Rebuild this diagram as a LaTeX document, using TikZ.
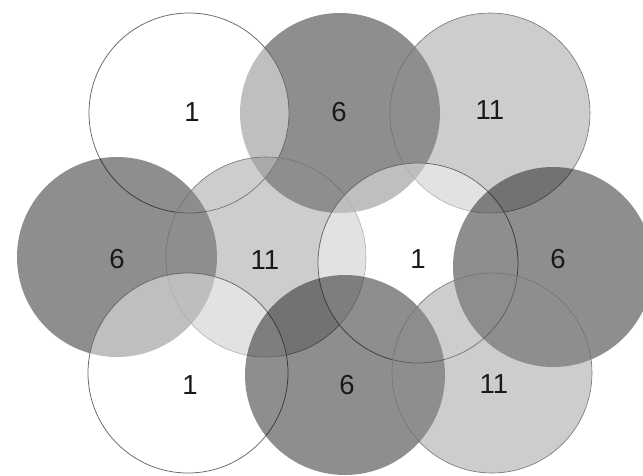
\documentclass[tikz,border=0pt]{standalone}
\usepackage{fontspec}
\setmainfont{Liberation Sans}
\definecolor{midgray}{RGB}{142,142,142}
\begin{document}
\begin{tikzpicture}[x=1pt,y=-1pt,
  chone/.style={fill=white, fill opacity=0.43, draw=black!60, draw opacity=1, line width=0.75pt},
  chsix/.style={fill=black, fill opacity=0.443},
  chelev/.style={fill=midgray, fill opacity=0.44, draw=black!55, draw opacity=1, line width=0.6pt},
  lab/.style={font=\fontsize{27.5}{27.5}\selectfont, text=black!90, inner sep=0pt}]
\useasboundingbox (0,0) rectangle (643,475);
\clip (0,0) rectangle (643,475);
% drawing order fixes the overlaps
\path[chsix]  (340,113) circle (100);
\path[chelev] (490,113) circle (100);
\path[chone]  (189,113) circle (100);
\path[chsix]  (117,257) circle (100);
\path[chelev] (266,257) circle (100);
\path[chone]  (418,263) circle (100);
\path[chone]  (188,373) circle (100);
\path[chsix]  (553,267) circle (100);
\path[chsix]  (345,375) circle (100);
\path[chelev] (492,373) circle (100);
% labels
\node[lab] (t1)  at (192,112) {1};
\node[lab] (t6)  at (339,112) {6};
\node[lab] (t11) at (490,110) {11};
\node[lab] (m6)  at (117,259) {6};
\node[lab] (m11) at (265,260) {11};
\node[lab] (m1)  at (418,259) {1};
\node[lab] (m6r) at (558,259) {6};
\node[lab] (b1)  at (190,385) {1};
\node[lab] (b6)  at (347,385) {6};
\node[lab] (b11) at (494,384) {11};
\end{tikzpicture}
\end{document}
